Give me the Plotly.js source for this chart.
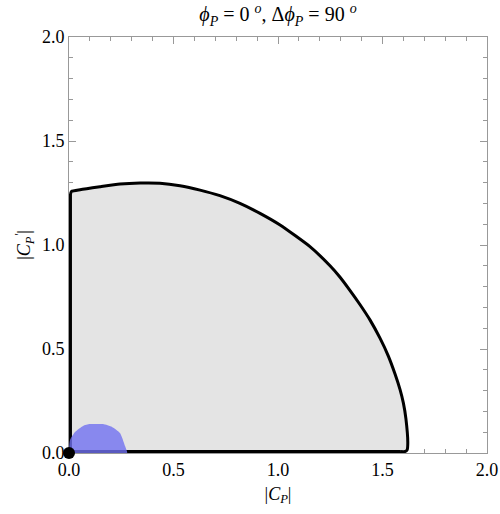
<!DOCTYPE html>
<html><head><meta charset="utf-8">
<script src="https://cdn.plot.ly/plotly-3.0.1.min.js"></script>
<style>body{margin:0;padding:0;background:#fff}#plot{width:500px;height:514px}</style>
</head><body><div id="plot"></div>
<script>
// Curved outer boundary of the allowed (gray) region: |C_P| vs |C_P'|
const arcX = [0.007, 0.012, 0.053, 0.148, 0.244, 0.340, 0.435, 0.531, 0.627, 0.722, 0.818, 0.914, 1.010, 1.153, 1.249, 1.297, 1.344, 1.392, 1.440, 1.488, 1.528, 1.560, 1.584, 1.600, 1.612, 1.621, 1.618, 1.608, 1.584];
const arcY = [1.245, 1.258, 1.266, 1.280, 1.293, 1.298, 1.297, 1.285, 1.264, 1.237, 1.200, 1.152, 1.096, 0.992, 0.900, 0.845, 0.782, 0.714, 0.640, 0.552, 0.466, 0.380, 0.305, 0.240, 0.165, 0.050, 0.015, 0.007, 0.007];
// Straight edges along the axes
const edgeX = [1.584, 0.007, 0.007];
const edgeY = [0.007, 0.007, 1.245];
// Blue region
const blueX = [0.005, 0.005, 0.029, 0.067, 0.10, 0.163, 0.206, 0.244, 0.268, 0.278, 0.005];
const blueY = [0.0, 0.0625, 0.101, 0.13, 0.139, 0.139, 0.125, 0.096, 0.034, 0.0, 0.0];
// Point
const ptX = [0];
const ptY = [0];

const fam = 'Liberation Serif, DejaVu Serif, serif';
const font = {family: fam, size: 18, color: '#000'};
const axisCommon = {
  range: [0, 2], dtick: 0.5, tick0: 0, tickformat: '.1f',
  showgrid: false, zeroline: false, layer: 'below traces',
  showline: true, linecolor: '#999', linewidth: 1, mirror: 'allticks',
  ticks: 'inside', ticklen: 7, tickcolor: '#999', tickwidth: 1,
  minor: {dtick: 0.1, ticks: 'inside', ticklen: 4, tickcolor: '#999', tickwidth: 1, showgrid: false},
  tickfont: font, fixedrange: true
};
const fillX = arcX.concat(edgeX);
const fillY = arcY.concat(edgeY);
const data = [
  {x: fillX, y: fillY, type: 'scatter', mode: 'lines', fill: 'toself',
   fillcolor: '#e4e4e4', line: {width: 0, color: 'rgba(0,0,0,0)', shape: 'spline', smoothing: 0.5}, hoverinfo: 'skip'},
  {x: arcX, y: arcY, type: 'scatter', mode: 'lines', line: {color: '#000', width: 3, shape: 'spline', smoothing: 0.5}, hoverinfo: 'skip'},
  {x: edgeX, y: edgeY, type: 'scatter', mode: 'lines', line: {color: '#000', width: 3}, hoverinfo: 'skip'},
  {x: blueX, y: blueY, type: 'scatter', mode: 'lines', fill: 'toself',
   fillcolor: 'rgba(112,112,240,0.8)', line: {color: 'rgba(112,112,240,0)', width: 0, shape: 'spline', smoothing: 0.5}, hoverinfo: 'skip'},
  {x: ptX, y: ptY, type: 'scatter', mode: 'markers', marker: {color: '#000', size: 12}, cliponaxis: false, hoverinfo: 'skip'}
];
const layout = {
  width: 500, height: 514,
  margin: {l: 69, r: 13, t: 37, b: 61},
  paper_bgcolor: '#fff', plot_bgcolor: '#fff',
  showlegend: false,
  font: font,
  title: {text: '<i>ϕ<sub>P</sub></i> = 0 <sup><i>o</i></sup>, Δ<i>ϕ<sub>P</sub></i> = 90 <sup><i>o</i></sup>',
    font: {family: fam, size: 20, color: '#000'}, x: 0.5, xref: 'paper', xanchor: 'center', y: 0.972, yanchor: 'middle'},
  xaxis: Object.assign({}, axisCommon, {title: {text: '|<i>C<sub>P</sub></i>|', font: font, standoff: 8}}),
  yaxis: Object.assign({}, axisCommon, {title: {text: '|<i>C<sub>P</sub><sup>\'</sup></i>|', font: font, standoff: 6}})
};
Plotly.newPlot('plot', data, layout, {displayModeBar: false, staticPlot: true});
</script></body></html>
